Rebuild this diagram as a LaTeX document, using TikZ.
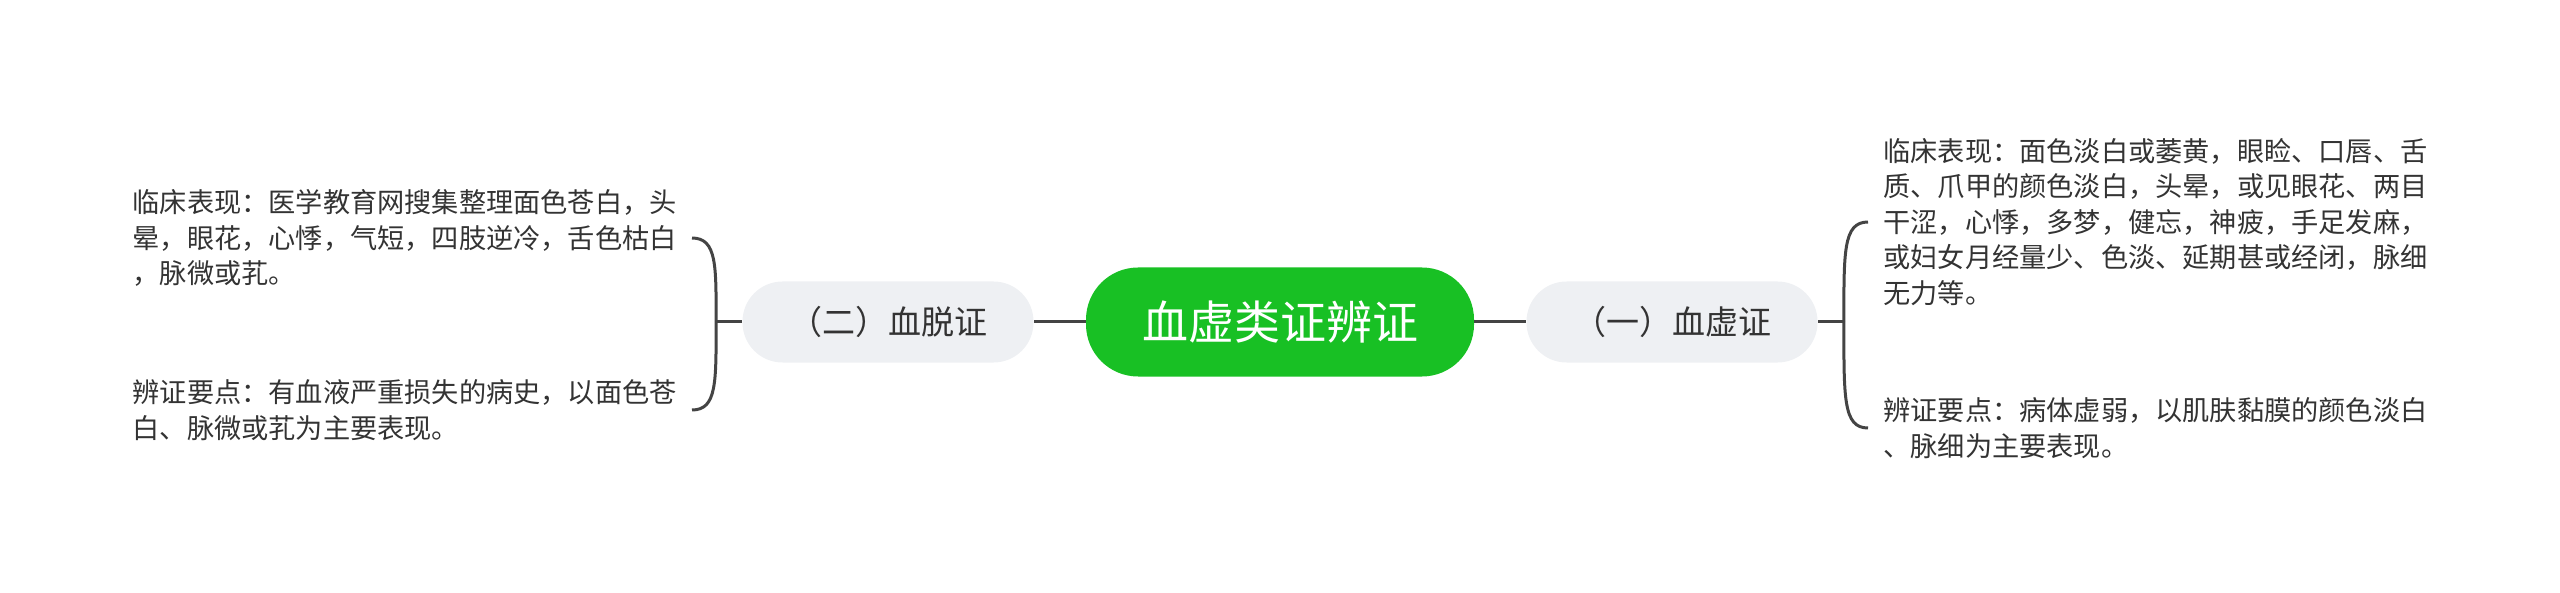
\documentclass[tikz,border=0pt]{standalone}
\usepackage{fontspec}
\setmainfont{Noto Sans CJK SC}
\usetikzlibrary{calc}
\definecolor{rootgreen}{RGB}{24,192,36}
\definecolor{topicgray}{RGB}{238,240,243}
\definecolor{linegray}{RGB}{68,68,68}
\definecolor{textgray}{RGB}{51,51,51}
\tikzset{
  rootnode/.style={fill=rootgreen,text=white,rounded corners=26pt,
    minimum width=194pt,minimum height=54.5pt,
    font=\fontsize{23}{28}\selectfont},
  topicnode/.style={fill=topicgray,text=textgray,rounded corners=20pt,
    minimum width=145.5pt,minimum height=40.5pt,
    font=\fontsize{16.5}{20}\selectfont},
  leafnote/.style={text=textgray,align=left,inner xsep=7.5pt,inner ysep=0pt,
    font=\fontsize{13.6}{17.75}\selectfont},
  link/.style={draw=linegray,line width=1.5pt}
}

\begin{document}
\begin{tikzpicture}[x=0.5pt,y=-0.5pt]
\useasboundingbox (0,0) rectangle (2560,593);
\node[rootnode] (root) at (1280,322) {血虚类证辨证};
\node[topicnode] (xuexu) at (1672,322) {（一）血虚证};
\node[topicnode] (xuetuo) at (888,322) {（二）血脱证};

\node[leafnote,anchor=west] (xuexu-lc) at (1868,222)
  {临床表现：面色淡白或萎黄，眼睑、口唇、舌\\
   质、爪甲的颜色淡白，头晕，或见眼花、两目\\
   干涩，心悸，多梦，健忘，神疲，手足发麻，\\
   或妇女月经量少、色淡、延期甚或经闭，脉细\\
   无力等。};
\node[leafnote,anchor=west] (xuexu-yd) at (1868,428)
  {辨证要点：病体虚弱，以肌肤黏膜的颜色淡白\\
   、脉细为主要表现。};
\node[leafnote,anchor=east] (xuetuo-lc) at (692,238)
  {临床表现：医学教育网搜集整理面色苍白，头\\
   晕，眼花，心悸，气短，四肢逆冷，舌色枯白\\
   ，脉微或芤。};
\node[leafnote,anchor=east] (xuetuo-yd) at (692,410)
  {辨证要点：有血液严重损失的病史，以面色苍\\
   白、脉微或芤为主要表现。};

\draw[link] (root) -- (xuexu);
\draw[link] (root) -- (xuetuo);
\draw[link] (xuexu.east) -- ++(26,0) coordinate (xuexu-j);
\draw[link] (xuexu-j) .. controls +(0,-70) and +(-25,0) .. (xuexu-lc.west);
\draw[link] (xuexu-j) .. controls +(0,76) and +(-25,0) .. (xuexu-yd.west);
\draw[link] (xuetuo.west) -- ++(-26,0) coordinate (xuetuo-j);
\draw[link] (xuetuo-j) .. controls +(0,-56) and +(25,0) .. (xuetuo-lc.east);
\draw[link] (xuetuo-j) .. controls +(0,60) and +(25,0) .. (xuetuo-yd.east);
\end{tikzpicture}
\end{document}
